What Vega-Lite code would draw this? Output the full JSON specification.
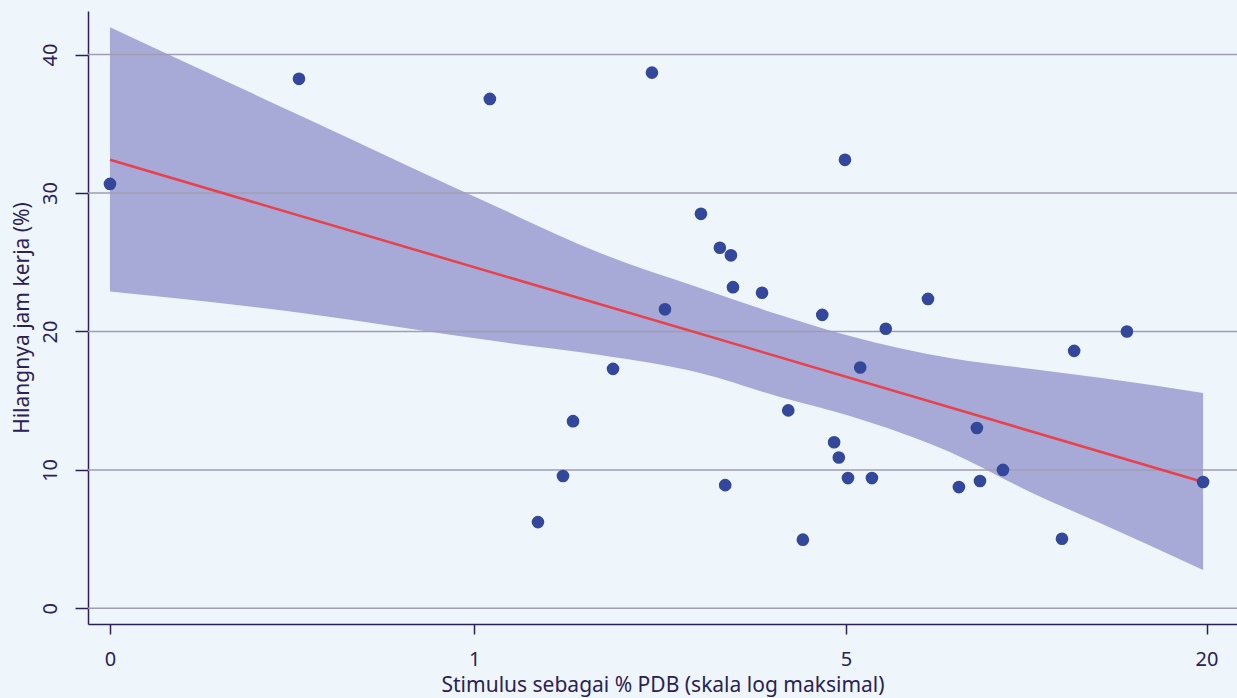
{
  "$schema": "https://vega.github.io/schema/vega-lite/v6.json",
  "width": 1149,
  "height": 613,
  "autosize": {"type": "none"},
  "padding": {"left": 88, "top": 11, "right": 0, "bottom": 74},
  "background": "#eef6fc",
  "config": {
    "view": {"stroke": null},
    "font": "Noto Sans",
    "axis": {
      "labelFont": "Noto Sans",
      "titleFont": "Noto Sans",
      "labelFontSize": 20,
      "titleFontSize": 21,
      "titleFontWeight": "normal",
      "labelColor": "#2b2157",
      "titleColor": "#2b2157",
      "domainColor": "#2b2157",
      "tickColor": "#2b2157",
      "domainWidth": 1.5,
      "tickWidth": 1.5,
      "grid": false
    }
  },
  "datasets": {
    "points": [
      {"stimulus": 0, "hours": 30.66},
      {"stimulus": 0.355, "hours": 38.25},
      {"stimulus": 1.08, "hours": 36.8},
      {"stimulus": 2.257, "hours": 38.7},
      {"stimulus": 1.359, "hours": 6.23},
      {"stimulus": 1.525, "hours": 9.56},
      {"stimulus": 1.596, "hours": 13.52},
      {"stimulus": 1.907, "hours": 17.3},
      {"stimulus": 2.386, "hours": 21.6},
      {"stimulus": 2.776, "hours": 28.5},
      {"stimulus": 3.003, "hours": 26.05},
      {"stimulus": 3.143, "hours": 25.5},
      {"stimulus": 3.17, "hours": 23.2},
      {"stimulus": 3.07, "hours": 8.9},
      {"stimulus": 3.57, "hours": 22.8},
      {"stimulus": 3.97, "hours": 14.3},
      {"stimulus": 4.21, "hours": 4.96},
      {"stimulus": 4.55, "hours": 21.2},
      {"stimulus": 4.77, "hours": 12.0},
      {"stimulus": 4.86, "hours": 10.9},
      {"stimulus": 4.98, "hours": 32.4},
      {"stimulus": 5.04, "hours": 9.41},
      {"stimulus": 5.29, "hours": 17.4},
      {"stimulus": 5.54, "hours": 9.41},
      {"stimulus": 5.85, "hours": 20.2},
      {"stimulus": 6.9, "hours": 22.35},
      {"stimulus": 7.78, "hours": 8.76},
      {"stimulus": 8.34, "hours": 13.03},
      {"stimulus": 8.44, "hours": 9.2},
      {"stimulus": 9.22, "hours": 10.0},
      {"stimulus": 11.56, "hours": 5.03},
      {"stimulus": 12.11, "hours": 18.6},
      {"stimulus": 14.8, "hours": 20.0},
      {"stimulus": 19.74, "hours": 9.13}
    ],
    "band": [
      {"stimulus": 0, "upper": 41.98, "lower": 22.88},
      {"stimulus": 0.3577, "upper": 35.6, "lower": 21.36},
      {"stimulus": 1.135, "upper": 28.9, "lower": 19.25},
      {"stimulus": 1.801, "upper": 25.67, "lower": 18.3},
      {"stimulus": 2.765, "upper": 23.14, "lower": 17.0},
      {"stimulus": 3.84, "upper": 21.19, "lower": 15.27},
      {"stimulus": 5.08, "upper": 19.67, "lower": 13.9},
      {"stimulus": 7.51, "upper": 18.08, "lower": 11.3},
      {"stimulus": 10.23, "upper": 17.3, "lower": 8.41},
      {"stimulus": 13.36, "upper": 16.65, "lower": 6.16},
      {"stimulus": 19.74, "upper": 15.56, "lower": 2.77}
    ],
    "fit": [
      {"stimulus": 0, "hours": 32.4},
      {"stimulus": 19.74, "hours": 9.13}
    ],
    "grid": [
      {"level": 0}, {"level": 10}, {"level": 20}, {"level": 30}, {"level": 40}
    ]
  },
  "layer": [
    {
      "data": {"name": "band"},
      "mark": {"type": "area", "color": "#a7aad6", "opacity": 1, "interpolate": "monotone"},
      "encoding": {
        "x": {
          "field": "stimulus", "type": "quantitative",
          "scale": {"type": "symlog", "constant": 0.35, "domain": [-0.0297, 22.43], "nice": false, "zero": false},
          "axis": {
            "title": "Stimulus sebagai % PDB (skala log maksimal)",
            "values": [0, 1, 5, 20],
            "tickSize": 10,
            "labelPadding": 15,
            "titlePadding": 5
          }
        },
        "y": {
          "field": "upper", "type": "quantitative",
          "scale": {"domain": [-1.13, 43.15], "nice": false, "zero": false},
          "axis": {
            "title": "Hilangnya jam kerja (%)",
            "values": [0, 10, 20, 30, 40],
            "tickSize": 13,
            "labelAngle": -90,
            "labelAlign": "center",
            "labelBaseline": "bottom",
            "labelPadding": 15,
            "titlePadding": 8
          }
        },
        "y2": {"field": "lower"}
      }
    },
    {
      "data": {"name": "grid"},
      "mark": {"type": "rule", "color": "#a09cb1", "strokeWidth": 1.5},
      "encoding": {
        "y": {"field": "level", "type": "quantitative"}
      }
    },
    {
      "data": {"name": "fit"},
      "mark": {"type": "line", "color": "#e8414c", "strokeWidth": 2.5},
      "encoding": {
        "x": {"field": "stimulus", "type": "quantitative"},
        "y": {"field": "hours", "type": "quantitative"}
      }
    },
    {
      "data": {"name": "points"},
      "mark": {"type": "circle", "color": "#34489b", "opacity": 1, "size": 160},
      "encoding": {
        "x": {"field": "stimulus", "type": "quantitative"},
        "y": {"field": "hours", "type": "quantitative"}
      }
    }
  ]
}
